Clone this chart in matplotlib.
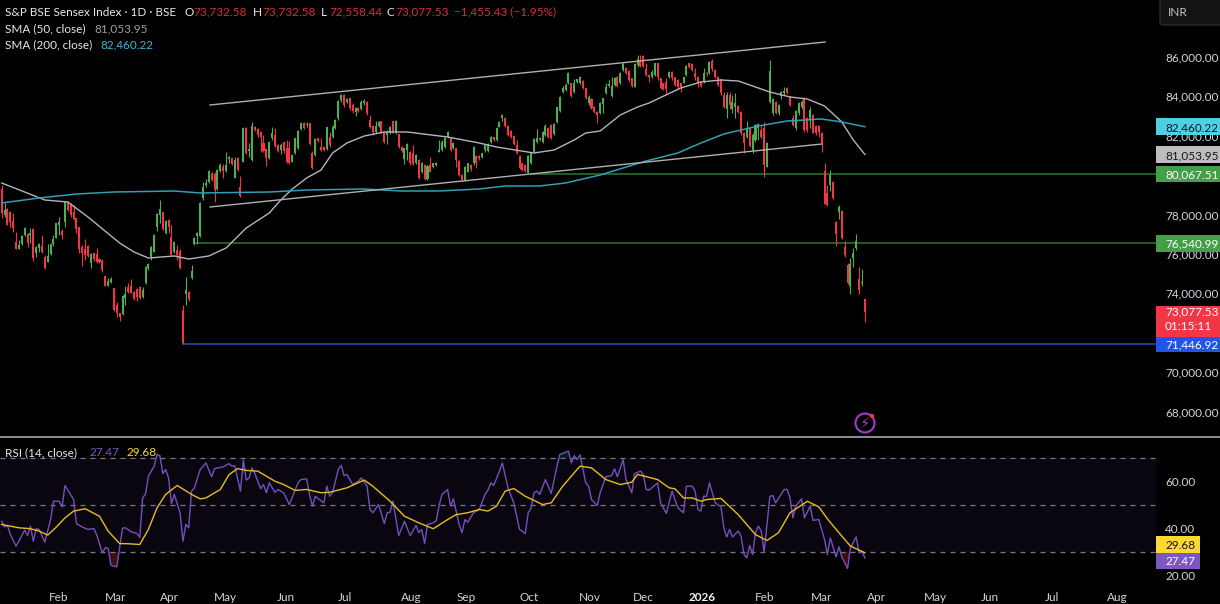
#!/usr/bin/env python
# S&P BSE Sensex daily candles with SMA 50/200, drawn lines and an RSI pane

import numpy as np
import matplotlib
matplotlib.use("Agg")
import matplotlib.pyplot as plt
from matplotlib.patches import Rectangle, FancyBboxPatch, Circle
from matplotlib.transforms import blended_transform_factory

plt.rcParams['font.family'] = ['Lato', 'DejaVu Sans']

# daily candles, one value per bar
opens = [79283,77980,78267,78149,77692,76626,76271,76508,76965,77015,
76965,77252,76034,76305,76406,75865,75611,76000,76508,76829,
77472,77185,77641,78657,78487,78149,77811,77354,76372,76237,
76406,75526,76034,76000,75746,75645,74883,74393,74562,74257,
73411,72988,72955,73750,74342,74376,74088,74207,74342,73800,
74511,75273,75831,76119,77388,77980,78115,77049,77726,76880,
76085,76203,76152,73158,73970,74071,74765,76508,76931,76931,
78826,79503,79672,80095,80044,79300,80214,80434,80214,80823,
80857,79875,80890,79418,80687,82413,81229,80772,82430,82346,
82210,81618,81330,80857,81872,82041,81533,81280,81669,81364,
81364,80687,81110,81364,82346,82633,82549,82633,81110,81026,
81872,81449,81449,81330,81956,81956,82379,82887,83818,84071,
83733,83902,83564,83225,83429,83344,83648,83699,82802,82515,
82210,82515,82752,82210,82041,82126,82752,82176,82075,81449,
80823,81280,81195,81110,80603,80771,80179,80518,79790,80518,
80399,80518,81194,81279,81448,81922,81922,81364,81364,80737,
80010,79756,80179,80518,80602,80974,80974,80941,81279,81245,
81668,81922,81787,82463,82886,82920,82497,82243,81990,81533,
80974,80602,80518,80128,80602,81194,81702,81871,81702,82040,
82379,82548,82091,82717,83276,84240,84325,84663,84663,84240,
84748,84663,84798,84409,83648,83851,83479,83225,83140,83614,
84155,84528,84020,84578,85001,84663,85340,85424,85306,84917,
84494,85594,85847,86050,85374,85086,84968,85086,85678,84917,
84663,84714,84968,85255,84968,84832,84663,84697,85086,85678,
85644,85171,85001,84748,84748,85204,85171,85814,85340,85001,
84866,84071,83343,84071,83343,83479,83512,83225,82159,81956,
82379,81279,81787,82379,82294,82379,80433,83732,83140,83732,
83174,84020,84155,84409,83986,82886,82379,83174,83445,83902,
82886,82802,83056,82497,82497,82159,80230,79113,79502,79638,
77607,78149,78200,76338,75442,74376,75780,76287,74714,74511,73732.58]

highs = [79503,78572,78318,78183,78064,77100,76711,76965,77354,77049,
77303,77303,76406,76542,76965,75949,76508,76542,76965,77591,
77895,77252,78657,78690,78572,78487,77845,77388,76457,76745,
76457,76034,76068,76288,75780,75729,74883,74765,74816,74257,
73581,73022,73902,74376,74545,74731,74139,74257,74376,74342,
75391,75526,76406,77015,78098,78741,78149,77726,77760,77472,
76660,76457,76237,73411,74850,74105,75442,76880,77134,78640,
79672,79791,80264,80146,80146,80315,80603,80552,81195,80992,
80890,80941,80941,79977,82464,82464,81618,82718,82515,82413,
82244,82041,81364,81736,82464,82379,81567,81618,81703,81787,
81736,81060,81906,82278,82684,82684,82718,82667,81246,81872,
81906,81872,81483,82464,82210,82549,82836,83818,84105,84105,
83936,83936,83648,83479,83479,83818,83852,83767,83056,82549,
82752,82752,82769,82244,82295,82515,82769,82802,82109,81483,
81398,81618,81229,81533,81060,80805,80687,80551,80518,80941,
80636,80687,81787,81787,81922,82243,81956,81668,81397,80771,
80044,80467,80636,80551,81482,81025,81025,81144,81584,81617,
81990,81956,82430,82768,83106,82971,82548,82294,82040,81787,
81025,80636,80568,81025,81194,81871,82328,81922,82243,82599,
82430,82582,82633,83479,84037,84528,84663,85255,84697,84866,
84900,85035,84832,84443,84071,83902,83512,83259,83732,83935,
84663,84832,85001,85001,85035,85255,85763,85509,85340,84951,
85678,86101,86101,86118,85678,85137,85340,85712,85712,84951,
84697,84917,85306,85306,85001,84866,84697,85001,85577,85712,
85712,85424,85035,84781,85424,85255,85797,85881,85374,85035,
84900,84240,84240,84240,84071,84155,83563,83259,82210,82768,
82463,82125,82599,82666,82548,82717,81702,85847,83902,83783,
83614,84291,84460,84460,84020,83056,83309,83732,83817,83952,
82971,83479,83106,82548,82548,82210,80602,79502,80264,79722,
77675,78487,78233,76677,75560,75780,76287,77015,75323,75221,73732.58]

lows = [77810,77895,77450,77388,77100,76237,76237,76457,76931,76339,
76542,75662,75831,76119,76034,75239,75577,75949,76406,76795,
76965,76762,77388,78200,77895,77726,77049,76034,75391,75696,
75865,75306,75662,75560,75526,75103,74376,74376,74511,73124,
72819,72616,72904,73411,74004,74004,73665,73614,73716,73750,
74477,75188,75696,76085,77185,77557,77218,77015,77049,75932,
76034,75696,75222,71446.92,73411,73632,74731,76457,76508,76880,
78742,79418,79588,79706,78623,79249,80146,79875,80180,80603,
80518,79841,80214,78911,80654,81060,80941,80721,82244,81956,
81195,81195,80484,80823,81787,81449,81195,81077,81110,80603,
80552,80654,81060,81330,82295,82329,82464,81533,80315,80992,
81703,81229,81229,81280,81449,81872,82329,82802,83733,83479,
83648,83310,83141,83022,83191,83293,83580,83056,82413,82041,
82159,82464,82159,81618,81567,82075,82126,82075,81398,81195,
80552,80772,80518,80518,80552,79790,80128,79756,79756,80145,
80365,80484,81177,81228,81364,81871,81245,81313,80433,79959,
79722,79722,80145,80230,80518,80348,80771,80856,81194,81160,
81617,81753,81753,82430,82768,82463,81990,81888,81533,81076,
80298,80230,80179,80095,80551,81160,81651,81753,81617,81990,
81905,81820,82040,82666,83225,84189,84291,84612,83952,84189,
84697,84629,84358,83851,83563,83343,83140,82632,83089,83140,
84105,84460,83986,84528,84494,84629,85306,85137,84748,84460,
84460,85509,85509,85475,85035,84748,84917,85035,84832,84358,
84307,84155,84917,84832,84528,84358,84240,84663,85035,85424,
85306,84832,84494,84460,84663,85035,85137,85306,84917,84528,
84071,83394,82886,83343,83140,82886,83174,82040,81110,81871,
81414,81110,81702,81787,81871,79891,80399,83682,83056,83106,
83056,83851,84071,84122,83512,82497,82294,83056,83343,82210,
82210,82379,82125,82040,81956,81194,78521,78436,79215,78775,
76423,77760,76761,75864,74460,73970,75323,76203,73970,74376,72558.44]

closes = [78064,78234,77472,77641,77303,76254,76457,76914,77303,76542,
77083,75780,76372,76508,76102,75273,75899,76508,76762,77557,
77641,76965,78623,78234,77980,77777,77252,76237,76034,75949,
75899,75983,75729,75611,75611,75188,74393,74630,74748,73158,
73022,72819,73868,73970,74088,74037,73699,73834,73750,74173,
75323,75476,76372,76965,78030,78284,77252,77692,77354,75949,
76626,75949,75273,71500,74173,73699,75154,76829,77049,78606,
79418,79588,80214,79757,79249,80264,80518,80214,80518,80941,
80552,80772,80264,78945,82413,81110,81314,82515,82295,82041,
81956,81229,80857,81703,82159,81500,81229,81533,81229,80654,
80603,81026,81872,82244,82633,82379,82582,81567,80349,81838,
81736,81280,81280,82430,81533,82464,82802,83784,84071,83564,
83868,83395,83259,83395,83259,83733,83784,83141,82464,82210,
82515,82718,82210,81669,82210,82464,82159,82752,81449,81229,
81364,81567,80603,80552,81026,79841,80636,79790,80467,80179,
80602,80636,81279,81702,81871,82209,81279,81617,80771,80010,
79756,80433,80602,80298,81448,80602,80856,81110,81533,81584,
81922,81787,82379,82717,83056,82497,82040,81922,81584,81110,
80348,80264,80230,80974,81160,81820,81871,81787,82209,82497,
81956,81871,82599,83445,83986,84409,84578,85204,84020,84697,
84866,85001,84409,83902,83986,83394,83225,83056,83648,83902,
84460,84612,84528,84951,84528,85204,85644,85204,84832,84528,
85644,85881,85560,85543,85086,84968,85255,85678,85001,84409,
84358,84358,85255,84917,84578,84460,84460,84968,85543,85509,
85340,84968,84663,84528,85171,85137,85763,85374,85001,84578,
84155,83479,84071,83563,83732,83648,83225,82125,81617,82379,
81482,82040,82548,82599,81922,80518,81651,85306,83851,83174,
83563,84240,84291,84155,83563,82548,83276,83682,83732,82294,
82294,83309,82159,82159,82210,81617,78538,78487,80010,78826,
76998,78403,76795,75949,74511,75492,76034,76677,74173,74596,73077.53]

# moving averages, read at their bends
sma50_bars = [0,8,15,23,30,41,46,51,60,65,72,78,85,93,97,101,106,111,115,120,126,133,141,155,166,172,185,192,199,203,208,215,221,225,236,243,250,256,263,267,274,280,286,292,296,300]
sma50_vals = [79604,79147,78741,78640,77878,76559,76102,75797,75899,75746,75899,76305,77320,78081,78741,79300,79858,80264,81127,81635,81990,82193,82193,81939,81635,81432,81127,81279,81787,82142,82244,83056,83462,83665,84426,84731,84832,84782,84426,84223,83970,83868,83513,82701,81787,81053.95]
sma200_bars = [0,13,26,39,60,69,93,106,126,139,152,166,175,187,196,208,216,224,235,243,251,263,273,285,292,300]
sma200_vals = [78589,78843,79046,79147,79198,79097,79147,79249,79300,79198,79198,79300,79452,79452,79604,80010,80366,80721,81127,81635,82091,82498,82751,82853,82701,82460.22]

# rsi pane
rsi_bars = [0,1,2,3,5,6,8,9,10,11,12,13,15,17,18,20,21,22,25,26,28,30,32,33,35,36,37,38,40,42,43,45,47,48,49,50,51,53,54,55,56,57,58,59,60,62,63,64,65,66,67,69,71,73,74,
77,79,80,81,83,84,85,86,87,88,90,91,92,93,95,96,98,100,103,104,106,107,108,109,112,113,114,115,117,118,119,120,122,124,125,127,128,129,131,133,134,135,136,138,140,142,144,145,146,147,148,150,151,
152,153,155,156,157,159,160,161,162,164,166,168,169,170,171,173,174,176,178,180,182,183,184,185,186,187,189,191,193,194,197,198,199,200,201,203,204,205,207,208,210,212,213,214,216,217,219,220,222,223,224,225,
228,229,231,233,235,237,238,240,241,242,243,244,245,246,248,250,251,252,253,254,256,257,258,259,260,261,262,263,264,265,267,268,269,272,273,274,275,276,278,279,281,282,284,286,287,288,290,291,292,294,295,297,298,299,300]
rsi_vals = [43.1,40.7,41.3,37.4,32.5,34.6,39.3,37.0,41.0,34.6,39.9,39.6,34.2,43.8,51.6,51.6,49.2,58.3,52.3,42.1,40.6,39.6,40.0,37.4,29.6,31.8,31.6,24.3,23.7,40.1,40.3,38.6,37.9,36.2,53.0,54.7,62.3,66.5,71.5,71.0,63.4,65.1,61.5,50.6,54.5,46.7,34.6,41.7,40.3,55.9,57.3,65.1,67.9,62.0,65.5,
66.2,67.6,66.5,66.8,55.9,69.1,60.6,61.5,65.8,63.4,56.9,58.7,55.2,59.4,55.4,56.6,55.2,50.2,59.4,60.8,61.1,54.5,49.5,53.7,50.9,58.0,53.7,55.2,65.1,66.9,62.5,63.0,58.7,60.1,61.5,58.0,48.1,46.7,50.2,42.1,46.7,46.9,51.6,37.0,43.1,37.0,41.3,38.2,39.6,33.6,41.7,42.4,43.1,
49.5,54.5,56.6,49.5,52.6,41.7,38.2,43.8,42.7,46.7,48.1,54.5,56.3,59.4,58.3,64.4,67.9,57.3,50.9,39.6,37.9,46.7,48.8,55.2,55.9,54.5,60.8,54.9,66.5,71.5,72.9,67.9,71.0,69.3,71.3,59.4,58.0,52.3,49.8,55.2,62.0,62.5,65.4,62.0,69.3,60.8,55.2,63.4,64.4,63.0,56.6,56.3,
59.4,50.9,46.4,55.9,48.8,46.7,58.0,58.0,55.9,48.1,47.4,53.7,53.7,59.4,50.9,49.2,40.3,36.4,39.6,36.4,38.9,36.7,28.9,27.5,32.8,28.9,38.2,41.0,38.9,29.9,53.7,54.0,50.9,56.6,56.6,53.0,44.5,49.5,52.6,44.5,49.5,43.5,43.8,35.3,28.9,36.0,27.9,32.2,27.9,23.0,31.8,36.4,29.6,30.4,27.47]
rsi_ma_bars = [0,3,6,10,13,16,19,22,25,29,34,37,41,44,48,51,54,57,61,66,69,71,76,79,82,85,89,95,98,102,106,111,114,120,126,129,135,140,145,150,155,158,162,166,169,172,175,178,182,188,191,195,200,201,205,210,215,219,221,228,232,234,237,240,243,245,250,256,262,266,270,274,280,284,287,291,295,300]
rsi_ma_vals = [41.7,41.0,40.3,39.9,38.9,37.2,40.6,44.5,47.4,48.4,45.2,38.9,33.6,33.5,33.2,39.6,48.8,54.5,58.3,54.5,52.6,53.0,56.6,62.9,65.5,64.7,64.4,60.1,58.7,56.2,56.6,55.2,55.4,57.3,60.6,58.0,51.6,45.2,42.4,39.9,43.8,45.9,46.7,48.1,47.4,49.5,55.9,57.0,53.7,50.2,50.9,58.0,65.1,66.5,65.8,60.8,58.7,59.7,63.0,60.8,57.3,56.9,53.0,53.0,51.6,52.3,52.8,45.9,37.4,34.9,38.2,46.7,51.6,49.2,44.1,38.2,32.5,29.68]

# drawn lines
channel_bars = [72.4, 286.2]
channel_upper = [83564, 86761]
lower_bars = [72.4, 285.1]
channel_lower = [78386, 81584]
level_vals = [80067.51, 76540.99, 71446.92]
level_start = [184, 67, 63]
level_cols = ['#2a6f2d', '#2a6f2d', '#1e4aa8']

# axis labels
price_ticks = [68000, 70000, 72000, 74000, 76000, 78000, 80000, 82000, 84000, 86000]
rsi_ticks = [20, 40, 60]
month_bars = [19.8, 39.7, 58.2, 77.6, 98.8, 119.3, 142.3, 161.4, 183.3, 204.5, 222.9, 243.4, 265, 285.1, 303.9, 324.4, 343.5, 365, 387.8]
month_names = ['Feb', 'Mar', 'Apr', 'May', 'Jun', 'Jul', 'Aug', 'Sep', 'Oct', 'Nov', 'Dec', '2026', 'Feb', 'Mar', 'Apr', 'May', 'Jun', 'Jul', 'Aug']

W, H = 1220, 604
GREEN, RED = '#4caf50', '#f23645'
LABEL = '#d1d4dc'
FS = 8.5


def px_rect(x0, y0, x1, y1):
    # axes rectangle from pixel edges, y counted from the top
    return [x0 / W, 1 - y1 / H, (x1 - x0) / W, (y1 - y0) / H]


def px_text(x, y, s, color=LABEL, size=FS, **kw):
    fig.text(x / W, 1 - y / H, s, color=color, fontsize=size, va='center', **kw)


fig = plt.figure(figsize=(W / 100, H / 100), dpi=100, facecolor='black')
ax = fig.add_axes(px_rect(0, 0, 1156, 436), facecolor='black')
ax2 = fig.add_axes(px_rect(0, 438, 1156, 581), facecolor='black')

xmin, xmax = -0.58, 401.2
ax.set_xlim(xmin, xmax)
ax.set_ylim(66762, 88893)
ax2.set_xlim(xmin, xmax)
ax2.set_ylim(17.66, 78.5)

# candles
o = np.array(opens)
c = np.array(closes)
bars = np.arange(len(o))
cols = [GREEN if b else RED for b in c >= o]
ax.vlines(bars, lows, highs, colors=cols, lw=0.8, zorder=3)
ax.bar(bars, np.abs(c - o), bottom=np.minimum(o, c), width=0.7, color=cols, lw=0, zorder=3)

# averages and drawn lines
ax.plot(sma50_bars, sma50_vals, color='#b2b5be', lw=1.0, zorder=4)
ax.plot(sma200_bars, sma200_vals, color='#2f9fb5', lw=1.1, zorder=4)
ax.plot(channel_bars, channel_upper, color='#b0b0b0', lw=1.0, zorder=4)
ax.plot(lower_bars, channel_lower, color='#b0b0b0', lw=1.0, zorder=4)
for val, start, col in zip(level_vals, level_start, level_cols):
    ax.plot([start, xmax], [val, val], color=col, lw=1.2, zorder=2)

# rsi pane
r = np.array(rsi_vals)
rb = np.array(rsi_bars)
ax2.axhspan(30, 70, color='#7e57c2', alpha=0.08, lw=0)
for lev in [70, 50, 30]:
    ax2.axhline(lev, color='#787b86', lw=0.9, dashes=(4, 4))
ax2.fill_between(rb, r, 30, where=r < 30, interpolate=True, color='#f23645', alpha=0.25, lw=0)
ax2.fill_between(rb, r, 70, where=r > 70, interpolate=True, color='#089981', alpha=0.2, lw=0)
ax2.plot(rb, r, color='#7450bd', lw=1.0, zorder=3)
ax2.plot(rsi_ma_bars, rsi_ma_vals, color='#e8bb22', lw=1.0, zorder=4)

# axes furniture
for a in (ax, ax2):
    for s in a.spines.values():
        s.set_visible(False)
    a.yaxis.tick_right()
    a.tick_params(axis='y', length=0, pad=6.5, labelsize=FS, labelcolor=LABEL)
ax.set_xticks([])
ax.set_yticks(price_ticks)
ax.set_yticklabels([f'{t:,.2f}' for t in price_ticks], va='center_baseline')
ax2.set_yticks(rsi_ticks)
ax2.set_yticklabels([f'{t:.2f}' for t in rsi_ticks], va='center_baseline')
ax2.set_xticks(month_bars)
ax2.set_xticklabels(month_names)
ax2.tick_params(axis='x', length=0, pad=8, labelsize=FS, labelcolor=LABEL)
for lab, name in zip(ax2.get_xticklabels(), month_names):
    if name == '2026':
        lab.set_fontweight('bold')
        lab.set_color('#f0f3fa')

# price tags on the scale
right = 1220 / 1156
tr = blended_transform_factory(ax.transAxes, ax.transData)
px_price = 50.76
price_tags = [
    (82460.22, '82,460.22', '#4dd0e1', '#131722', 16.5),
    (81053.95, '81,053.95', '#bdbdbd', '#131722', 16.5),
    (80067.51, '80,067.51', '#43a047', '#ffffff', 16.5),
    (76540.99, '76,540.99', '#43a047', '#ffffff', 16.5),
    (71446.92, '71,446.92', '#2155e8', '#ffffff', 16.5),
]
for val, txt, bg, fg, hgt in price_tags:
    ax.add_patch(Rectangle((1.0, val - hgt / 2 * px_price), right - 1.0, hgt * px_price, transform=tr,
                           facecolor=bg, edgecolor='none', clip_on=False, zorder=5))
    ax.text(1.0 + 9 / 1156, val, txt, transform=tr, color=fg, fontsize=FS, va='center_baseline', zorder=6, clip_on=False)
ax.add_patch(Rectangle((1.0, 71780), right - 1.0, 31 * px_price, transform=tr,
                       facecolor=RED, edgecolor='none', clip_on=False, zorder=5))
px_text(1165, 312, '73,077.53', color='#ffffff', zorder=7)
px_text(1165, 326, '01:15:11', color='#ffffff', zorder=7)

tr2 = blended_transform_factory(ax2.transAxes, ax2.transData)
for top, txt, bg, fg, bot in [(36.8, '29.68', '#fdd835', '#131722', 29.7), (29.7, '27.47', '#7e57c2', '#ffffff', 22.7)]:
    ax2.add_patch(Rectangle((1.0, bot), 44 / 1156, top - bot, transform=tr2,
                            facecolor=bg, edgecolor='none', clip_on=False, zorder=5))
    ax2.text(1.0 + 9 / 1156, (top + bot) / 2, txt, transform=tr2, color=fg, fontsize=FS, va='center_baseline', zorder=6, clip_on=False)

# legends, top left
px_text(5, 12, 'S&P BSE Sensex Index · 1D · BSE', color='#e8e8e8')
for x, lab, num in [(184.5, 'O', '73,732.58'), (253, 'H', '73,732.58'), (320.5, 'L', '72,558.44'), (386.5, 'C', '73,077.53')]:
    px_text(x, 12, lab, color='#e8e8e8')
    px_text(x + 9, 12, num, color='#d6303c')
px_text(454.5, 12, '−1,455.43 (−1.95%)', color='#d6303c')
px_text(5, 29, 'SMA (50, close)', color='#e8e8e8')
px_text(94, 29, '81,053.95', color='#9e9e9e')
px_text(5, 45, 'SMA (200, close)', color='#e8e8e8')
px_text(100, 45, '82,460.22', color='#43b4d6')
px_text(5, 453, 'RSI (14, close)', color='#e8e8e8')
px_text(89, 453, '27.47', color='#7e57c2')
px_text(126, 453, '29.68', color='#fdd835')

# pane divider, currency button, lightning icon
fig.add_artist(Rectangle((0, 1 - 437.6 / H), 1, 1.4 / H, transform=fig.transFigure, facecolor='#8c8c8c', edgecolor='none'))
fig.add_artist(FancyBboxPatch((1160 / W, 1 - 25 / H), 80 / W, 27 / H, boxstyle='round,pad=0,rounding_size=0.004',
                              transform=fig.transFigure, facecolor='#131313', edgecolor='#2b2b2b', lw=1))
px_text(1168, 13, 'INR', color='#c4c4c4')
fig.add_artist(Circle((865, H - 423), 9.5, transform=None, facecolor='none', edgecolor='#a03cc8', lw=1.5))
fig.add_artist(Circle((872, H - 416), 2.2, transform=None, facecolor='#f23645', edgecolor='none'))
fig.text(865 / W, 1 - 423 / H, '⚡', color='#a03cc8', fontsize=10.5, ha='center', va='center', family='DejaVu Sans')

fig.savefig('out.png', dpi=100, facecolor='black')
